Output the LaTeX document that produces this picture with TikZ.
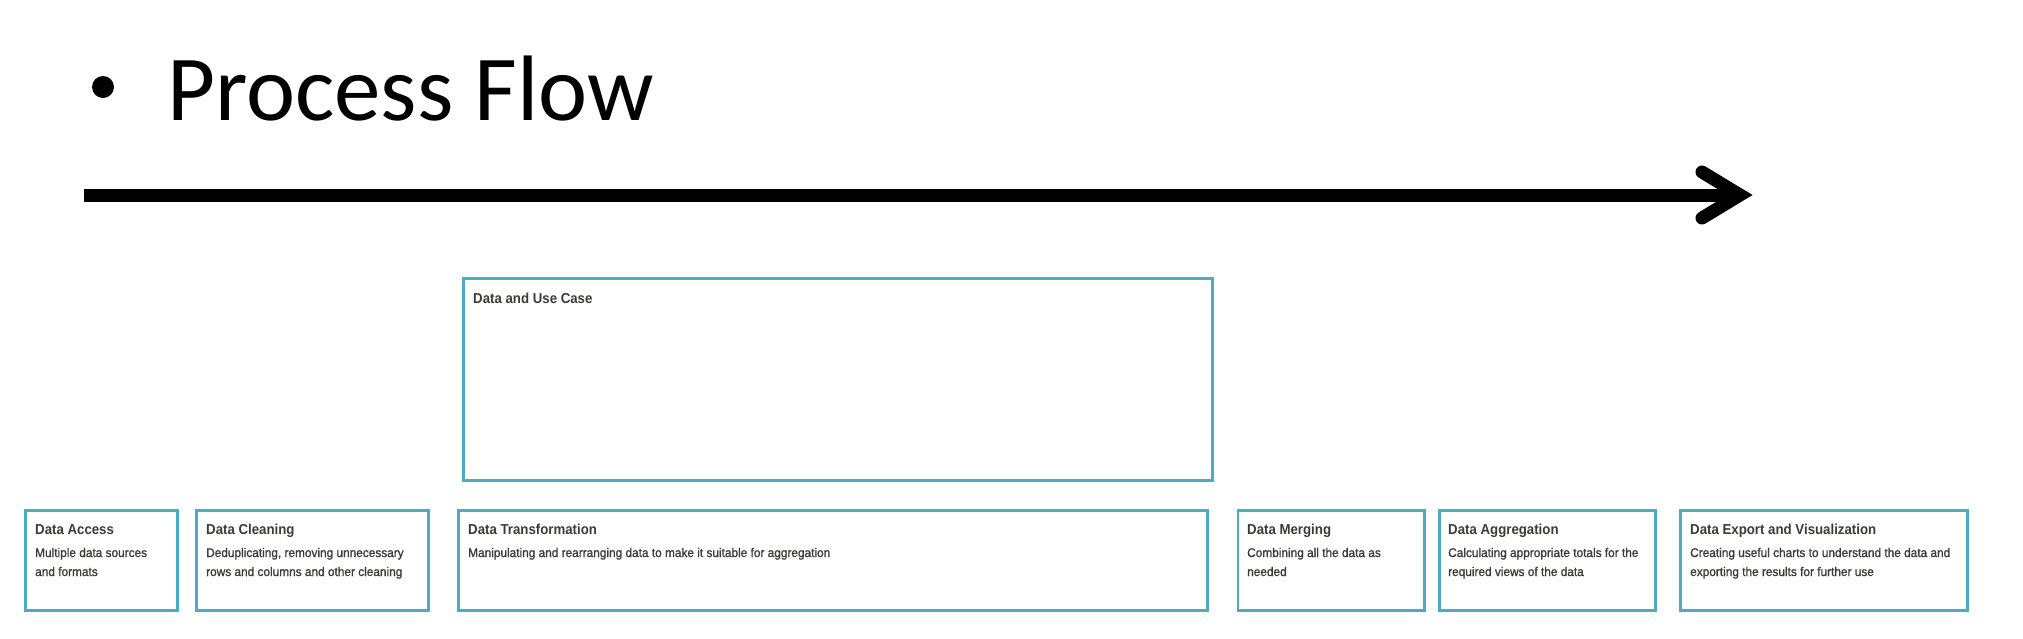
\documentclass[tikz,border=0pt]{standalone}
\usepackage{fontspec}
\setmainfont{Carlito}
\newfontfamily\boxfont{Liberation Sans}[FakeStretch=0.92]
\newfontfamily\bodyfont{Liberation Sans}[FakeStretch=0.94, RawFeature={embolden=1.2}]
\definecolor{boxline}{HTML}{4BACC6}
\definecolor{boxtext}{HTML}{3D3B3A}
\begin{document}
\begin{tikzpicture}[x=1pt,y=-1pt,
  stagebox/.style={draw=boxline, line width=2.6pt, fill=white, rectangle, inner sep=0pt, outer sep=0pt, anchor=north west},
  ttl/.style={anchor=base west, inner sep=0pt, text=boxtext, font=\boxfont\bfseries\fontsize{14.4}{17}\selectfont},
  bodytxt/.style={anchor=base west, inner sep=0pt, text=boxtext, font=\bodyfont\fontsize{12.6}{19}\selectfont},
  flow/.style={line width=13pt, black}]
\useasboundingbox (0,0) rectangle (2023,638);
\fill[white] (0,0) rectangle (2023,638);
% heading
\node[circle, fill=black, inner sep=0pt, minimum size=22pt] (bullet) at (103,87) {};
\node[anchor=base west, inner sep=0pt, font=\fontsize{93}{100}\selectfont] (heading) at (167,120) {Process Flow};
% arrow
\coordinate (shaftstart) at (84,195);
\coordinate (tipvertex) at (1740,195);
\coordinate (armup) at (1702,172);
\coordinate (armdown) at (1702,218);
\draw[flow, line cap=butt] (shaftstart) -- (tipvertex);
\draw[flow, line cap=round, line join=miter] (armup) -- (tipvertex) -- (armdown);
% boxes
\node[stagebox, minimum width=749.4pt, minimum height=202.4pt] (usecase) at (463.3,278.3) {};
\node[stagebox, minimum width=152.4pt, minimum height=100.4pt] (access) at (25.3,510.3) {};
\node[stagebox, minimum width=232.4pt, minimum height=100.4pt] (cleaning) at (196.3,510.3) {};
\node[stagebox, minimum width=749.4pt, minimum height=100.4pt] (transform) at (458.3,510.3) {};
\node[stagebox, minimum width=186.9pt, minimum height=100.4pt] (merging) at (1237.8,510.3) {};
\node[stagebox, minimum width=216.4pt, minimum height=100.4pt] (aggregation) at (1439.3,510.3) {};
\node[stagebox, minimum width=287.4pt, minimum height=100.4pt] (export) at (1680.3,510.3) {};
% texts
\node[ttl] (usecaset) at (473,303) {Data and Use Case};
\node[ttl] (accesst) at (35,534) {Data Access};
\node[bodytxt] (accessa) at (35,557) {Multiple data sources};
\node[bodytxt] (accessb) at (35,576) {and formats};
\node[ttl] (cleaningt) at (206,534) {Data Cleaning};
\node[bodytxt] (cleaninga) at (206,557) {Deduplicating, removing unnecessary};
\node[bodytxt] (cleaningb) at (206,576) {rows and columns and other cleaning};
\node[ttl] (transformt) at (468,534) {Data Transformation};
\node[bodytxt] (transforma) at (468,557) {Manipulating and rearranging data to make it suitable for aggregation};
\node[ttl] (mergingt) at (1247,534) {Data Merging};
\node[bodytxt] (merginga) at (1247,557) {Combining all the data as};
\node[bodytxt] (mergingb) at (1247,576) {needed};
\node[ttl] (aggregationt) at (1448,534) {Data Aggregation};
\node[bodytxt] (aggregationa) at (1448,557) {Calculating appropriate totals for the};
\node[bodytxt] (aggregationb) at (1448,576) {required views of the data};
\node[ttl] (exportt) at (1690,534) {Data Export and Visualization};
\node[bodytxt] (exporta) at (1690,557) {Creating useful charts to understand the data and};
\node[bodytxt] (exportb) at (1690,576) {exporting the results for further use};
\end{tikzpicture}
\end{document}
